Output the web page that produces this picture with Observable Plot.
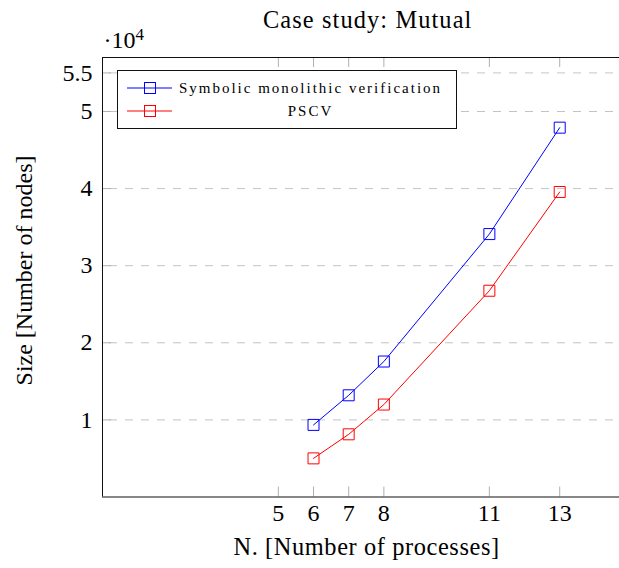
<!DOCTYPE html>
<html><head><meta charset="utf-8">
<script src="https://cdn.jsdelivr.net/npm/d3@7"></script>
<script src="https://cdn.jsdelivr.net/npm/@observablehq/plot@0.6"></script>
<style>body{margin:0;background:#fff} #chart{width:619px;height:568px}</style>
</head><body><div id="chart"></div>
<script>
const processes = [6, 7, 8, 11, 13];
const symbolicNodes = [9350, 13190, 17570, 34100, 47900];
const pscvNodes = [5010, 8130, 11990, 26750, 39560];
const xTicks = [5, 6, 7, 8, 11, 13];
const yTicks = [10000, 20000, 30000, 40000, 50000, 55000];
const yTickLabels = ["1", "2", "3", "4", "5", "5.5"];
const seriesNames = ["Symbolic monolithic verification", "PSCV"];
const seriesColors = ["#0000ff", "#ff0000"];
const titleText = "Case study: Mutual";
const xLabel = "N. [Number of processes]";
const yLabel = "Size [Number of nodes]";
const scaleText = "·10";
const scaleExp = "4";

const rows = [];
processes.forEach((n, i) => {
  rows.push({n, v: symbolicNodes[i], s: seriesNames[0]});
  rows.push({n, v: pscvNodes[i], s: seriesNames[1]});
});

const W = 619, H = 568, mL = 102, mT = 57, mB = 71.5, mR = 0;
const fw = W - mL - mR, fh = H - mT - mB;
const font = "'Liberation Serif', serif";
const fs = 24;

const plot = Plot.plot({
  width: W, height: H,
  marginLeft: mL, marginTop: mT, marginBottom: mB, marginRight: mR,
  style: {fontFamily: font, fontSize: fs + "px", background: "#fff", color: "#000", overflow: "visible"},
  x: {domain: [0, 14.7]},
  y: {domain: [0, 57000]},
  color: {domain: seriesNames, range: seriesColors},
  marks: [
    Plot.gridY(yTicks, {stroke: "#c4c4c4", strokeOpacity: 1, strokeDasharray: "8,8", strokeDashoffset: 9}),
    Plot.ruleY(yTicks, {stroke: "#b0b0b0", insetRight: fw - 9}),
    Plot.ruleX(xTicks, {stroke: "#b0b0b0", insetTop: fh - 10}),
    Plot.ruleX(xTicks, {stroke: "#b0b0b0", insetBottom: fh - 10}),
    Plot.axisY(yTicks, {tickSize: 0, tickPadding: 10, label: null, fontSize: fs,
      tickFormat: d => yTickLabels[yTicks.indexOf(d)]}),
    Plot.axisX(xTicks, {tickSize: 0, tickPadding: 7.2, label: null, fontSize: fs}),
    Plot.ruleX([0], {stroke: "#111"}),
    Plot.ruleY([0, 57000], {stroke: "#111"}),
    Plot.line(rows, {x: "n", y: "v", z: "s", stroke: "s", strokeWidth: 1}),
    Plot.dot(rows, {x: "n", y: "v", stroke: "s", symbol: "square", r: 6.2, fill: "none", strokeWidth: 1}),
    Plot.text([titleText], {text: d => d, frameAnchor: "top", lineAnchor: "middle", dx: 6.7, dy: -37.2, fontSize: 24.4}),
    Plot.text([scaleText], {text: d => d, frameAnchor: "top-left", lineAnchor: "middle", textAnchor: "start", dx: 1, dy: -17, fontSize: fs}),
    Plot.text([scaleExp], {text: d => d, frameAnchor: "top-left", lineAnchor: "middle", textAnchor: "start", dx: 33, dy: -23, fontSize: 17}),
    Plot.text([xLabel], {text: d => d, frameAnchor: "bottom", lineAnchor: "middle", textAnchor: "middle", dx: 5.6, dy: 50, fontSize: 24.4}),
    Plot.text([yLabel], {text: d => d, frameAnchor: "left", lineAnchor: "middle", textAnchor: "middle", dx: -78, dy: -6.75, rotate: -90, fontSize: fs})
  ]
});
document.getElementById("chart").appendChild(plot);

const svg = d3.select(plot);
// widen the word labels a touch to match the reference's letter widths
svg.selectAll("text").filter(function() { return this.textContent === titleText; }).attr("letter-spacing", 1.1);
svg.selectAll("text").filter(function() { return this.textContent === xLabel; }).attr("letter-spacing", 0.6);

// legend
const lg = svg.append("g").attr("font-family", font);
lg.append("rect").attr("x", 117.5).attr("y", 70.5).attr("width", 339).attr("height", 58)
  .attr("fill", "#fff").attr("stroke", "#111").attr("stroke-width", 1);
const rowsY = [88, 111];
seriesNames.forEach((name, i) => {
  const y = rowsY[i];
  lg.append("line").attr("x1", 127).attr("x2", 172).attr("y1", y).attr("y2", y)
    .attr("stroke", seriesColors[i]).attr("stroke-width", 1);
  lg.append("rect").attr("x", 144.5).attr("y", y - 5.5).attr("width", 11).attr("height", 11)
    .attr("fill", "none").attr("stroke", seriesColors[i]).attr("stroke-width", 1);
  lg.append("text").attr("x", 310.5).attr("y", y + 4.5).attr("text-anchor", "middle")
    .attr("font-size", 15).attr("letter-spacing", 2).text(name);
});
</script>
</body></html>
